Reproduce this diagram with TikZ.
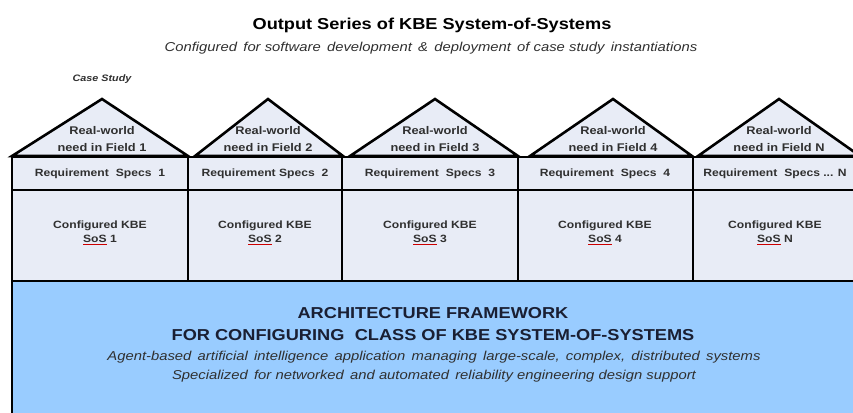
\documentclass[tikz,border=0pt]{standalone}
\usepackage{fontspec}
\setmainfont[FakeStretch=1.15]{Liberation Sans}
\usepackage{xcolor}
\usepackage{tikz}

\definecolor{panefill}{HTML}{E8ECF6}
\definecolor{baseblue}{HTML}{99CCFF}
\definecolor{inkgrey}{HTML}{303030}
\definecolor{inknavy}{HTML}{1A1F33}

\newcommand{\sosmark}{{\color{red!80!black}\underline{\color{inkgrey}SoS}}}

\begin{document}
\begin{tikzpicture}[x=0.03cm, y=-0.03cm,
    wall/.style={draw=black, line width=2pt, fill=panefill},
    roof/.style={draw=black, line width=2.2pt, fill=panefill, line join=miter},
    cell/.style={font=\bfseries\fontsize{9}{12}\selectfont, text=inkgrey, align=center}]
        \useasboundingbox (0,0) rectangle (853,412);
        % title
        \node[font=\bfseries\fontsize{13.5}{15}\selectfont] (Title) at (432,25) {Output Series of KBE System-of-Systems};
        \node[font=\itshape\fontsize{11}{12}\selectfont, text=inkgrey] (Subtitle) at (431,48) {Configured\, for software\, development\, \&\, deployment\, of case study\, instantiations};
        \node[font=\bfseries\itshape\fontsize{8}{9}\selectfont, text=inkgrey] (CaseStudy) at (102,79) {Case Study};
        
        % framework base
        \draw[fill=baseblue, draw=black, line width=2pt] (12,281) rectangle (870,420);
        \node[font=\bfseries\fontsize{13.5}{19}\selectfont, text=inknavy, align=center] (Framework) at (433,324) {ARCHITECTURE FRAMEWORK\\FOR CONFIGURING\,\, CLASS OF KBE SYSTEM-OF-SYSTEMS};
        \node[font=\itshape\fontsize{11}{16}\selectfont, text=inkgrey, align=center] (Purpose) at (434,367) {Agent-based\, artificial\, intelligence\, application\, managing\, large-scale,\, complex,\, distributed\, systems\\Specialized\, for networked\, and automated\, reliability engineering design support};
        
        % columns
        \foreach \i/\xl/\xr/\xm/\rl/\rr/\ap/\lab in {1/12/188/100/12/188/102/1, 2/188/342/265/195/343/268/2, 3/342/518/430/350/518/435/3, 4/518/693/605/530/692/613/4, 5/693/870/775/698/860/779/N} {
            \draw[roof] (\rl,156) -- (\ap,99) -- (\rr,156) -- cycle;
            \node[cell, font=\bfseries\fontsize{9.5}{14.5}\selectfont] (Need-\i) at (\ap,139) {Real-world\\need in Field \lab};
            \draw[wall] (\xl,157) rectangle (\xr,190);
            \draw[wall] (\xl,190) rectangle (\xr,281);
            \node[cell] (Req-\i) at (\xm,174) {};
            \node[cell] (Cfg-\i) at (\xm,233) {Configured KBE\\\sosmark{} \lab};
        }
        \node[cell] at (Req-1) {Requirement\,\, Specs\,\, 1};
        \node[cell] at (Req-2) {Requirement Specs\,\, 2};
        \node[cell] at (Req-3) {Requirement\,\, Specs\,\, 3};
        \node[cell] at (Req-4) {Requirement\,\, Specs\,\, 4};
        \node[cell] at (Req-5) {Requirement\,\, Specs ... N};
    \end{tikzpicture}
\end{document}
